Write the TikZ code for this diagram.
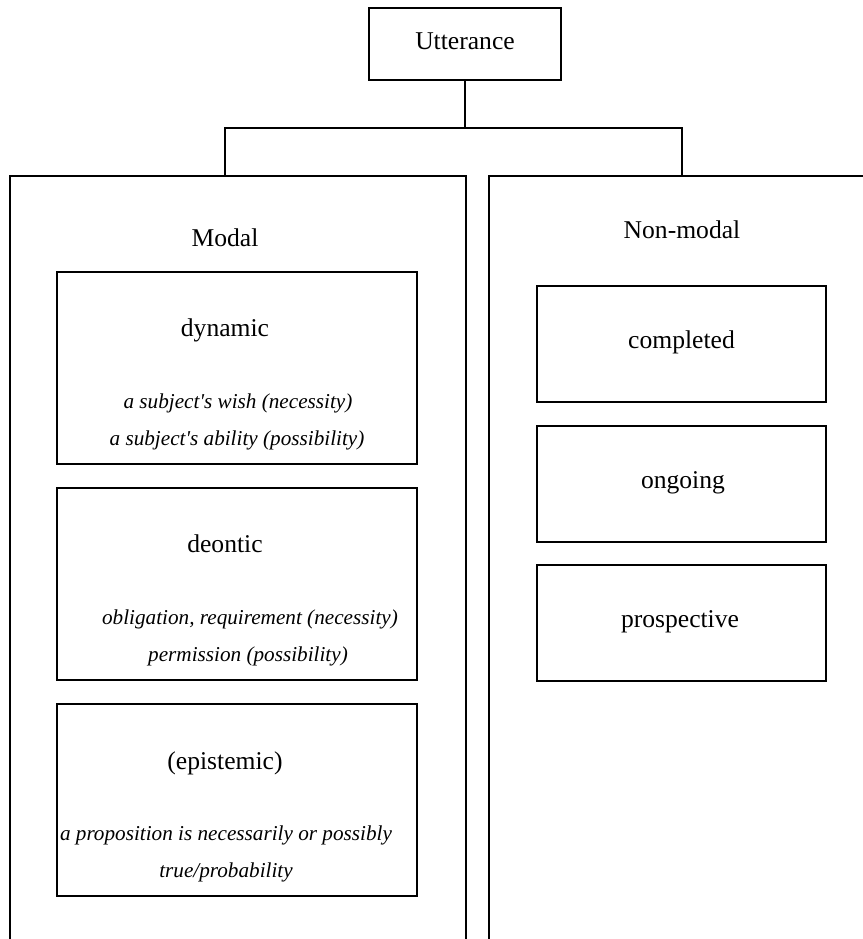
\documentclass[tikz,border=0pt]{standalone}
\usepackage{fontspec}
\setmainfont{Liberation Serif}
\usetikzlibrary{fit}
\begin{document}
\begin{tikzpicture}[x=0.5pt,y=-0.5pt]
\tikzset{
  box/.style={draw, line width=0.65pt, inner sep=0pt},
  outer/.style={draw, line width=0.75pt, inner sep=0pt},
  link/.style={line width=0.65pt},
  title/.style={anchor=base, inner sep=0pt, font=\fontsize{12.8}{15}\selectfont},
  gloss/.style={anchor=base, inner sep=0pt, font=\fontsize{10.6}{13}\selectfont\itshape}
}
\useasboundingbox (0,0) rectangle (863,939);
\clip (0,0) rectangle (863,939);

% root
\node[box, fit={(369,8) (561,80)}] (utt) {};
\node[title] (uttlabel) at (465,49) {Utterance};

% two main groups (open at the bottom of the page)
\node[outer, fit={(10,176) (466,1000)}] (modal) {};
\node[outer, fit={(489,176) (920,1000)}] (nonmodal) {};
\node[title] (modallabel) at (225,246) {Modal};
\node[title] (nonmodallabel) at (682,238) {Non-modal};

% tree connectors
\coordinate (jl) at (225,128);
\coordinate (jr) at (682,128);
\draw[link] (utt.south) -- (utt.south |- jl);
\draw[link] (jl |- modal.north) -- (jl) -- (jr) -- (jr |- nonmodal.north);

% modal subtypes
\node[box, fit={(57,272) (417,464)}] (dyn) {};
\node[title] (dynlabel) at (225,336) {dynamic};
\node[gloss] (dyn1) at (238,408) {a subject\textquotesingle s wish (necessity)};
\node[gloss] (dyn2) at (237,445) {a subject\textquotesingle s ability (possibility)};

\node[box, fit={(57,488) (417,680)}] (deo) {};
\node[title] (deolabel) at (225,552) {deontic};
\node[gloss] (deo1) at (250,624) {obligation, requirement (necessity)};
\node[gloss] (deo2) at (248,661) {permission (possibility)};

\node[box, fit={(57,704) (417,896)}] (epi) {};
\node[title] (epilabel) at (225,769) {(epistemic)};
\node[gloss] (epi1) at (226,840) {a proposition is necessarily or possibly};
\node[gloss] (epi2) at (226,877) {true/probability};

% non-modal subtypes
\node[box, fit={(537,286) (826,402)}] (comp) {};
\node[title] (complabel) at (681.5,348) {completed};
\node[box, fit={(537,426) (826,542)}] (ong) {};
\node[title] (onglabel) at (683,488) {ongoing};
\node[box, fit={(537,565) (826,681)}] (pros) {};
\node[title] (proslabel) at (680,627) {prospective};
\end{tikzpicture}
\end{document}
